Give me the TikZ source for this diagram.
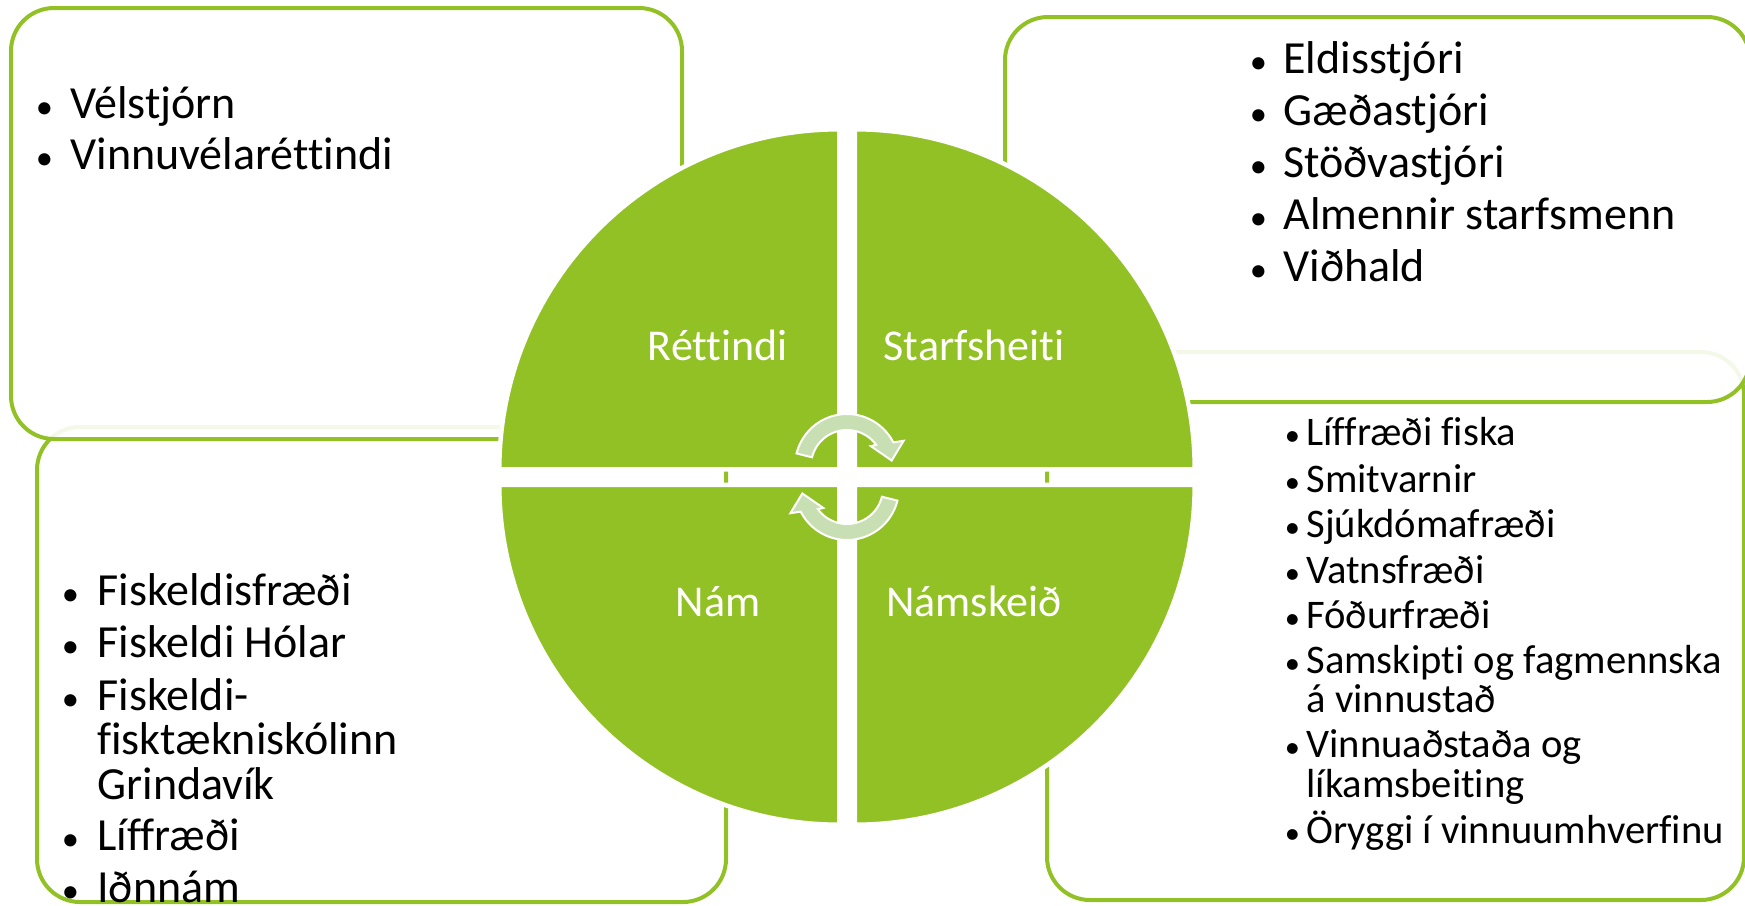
\documentclass[tikz,border=0pt]{standalone}
\usepackage{fontspec}
\setmainfont{Carlito}[Ligatures={NoCommon}]
\definecolor{mygreen}{RGB}{146,193,37}
\definecolor{arrowgreen}{RGB}{199,223,178}
\newcommand\mybul[1]{\llap{\makebox[0pt]{\scalebox{0.75}{•}}\hspace{#1}}}
\tikzset{
  boxline/.style={draw=mygreen, line width=2pt, rounded corners=21.5pt},
  topbox/.style={boxline, fill=white, fill opacity=0.9},
  botbox/.style={boxline, fill=white},
  quad/.style={fill=mygreen, draw=white, line width=2.25pt},
  qlabel/.style={text=white, font=\fontsize{22}{26}\selectfont, anchor=base, inner sep=0pt},
  lstbig/.style={font=\fontsize{23}{26}\selectfont, anchor=base west, inner sep=0pt},
  lstsmall/.style={font=\fontsize{20.3}{23}\selectfont, anchor=base west, inner sep=0pt},
  cyarrow/.style={fill=arrowgreen, draw=white, line width=1pt, line join=miter},
}
\begin{document}
\begin{tikzpicture}[x=0.5pt, y=-0.5pt]
\useasboundingbox (0,0) rectangle (1745,905);
% bottom boxes
\draw[botbox] (37,427) rectangle (726,902);
\draw[botbox] (1047,352) rectangle (1744,900);
% top boxes
\draw[topbox] (11,8) rectangle (682,439);
\draw[topbox] (1005,17) rectangle (1750,402);
% quadrants
\path[quad] (839.25,469.25) -- plot[domain=180:270, samples=60, variable=\t] ({839.25+340*cos(\t)},{469.25+340*sin(\t)}) -- cycle;
\path[quad] (854.75,469.25) -- plot[domain=270:360, samples=60, variable=\t] ({854.75+340*cos(\t)},{469.25+340*sin(\t)}) -- cycle;
\path[quad] (854.75,484.75) -- plot[domain=0:90, samples=60, variable=\t] ({854.75+340*cos(\t)},{484.75+340*sin(\t)}) -- cycle;
\path[quad] (839.25,484.75) -- plot[domain=90:180, samples=60, variable=\t] ({839.25+340*cos(\t)},{484.75+340*sin(\t)}) -- cycle;
% quadrant labels
\node[qlabel] (ret) at (718,360) {Réttindi};
\node[qlabel] (sta) at (974,360) {Starfsheiti};
\node[qlabel] (nam) at (718,616) {Nám};
\node[qlabel] (nsk) at (974,616) {Námskeið};
% cycle arrows
\path[cyarrow] plot[domain=194:333, samples=40, variable=\t] ({847+52*cos(\t)},{466+52*sin(\t)})
  -- ({847+62*cos(336)},{466+62*sin(336)})
  -- ({847+45*cos(353)},{466+45*sin(353)})
  -- ({847+31*cos(320)},{466+31*sin(320)})
  -- plot[domain=324:194, samples=40, variable=\t] ({847+36*cos(\t)},{466+36*sin(\t)}) -- cycle;
\path[cyarrow] plot[domain=14:153, samples=40, variable=\t] ({847+52*cos(\t)},{488+52*sin(\t)})
  -- ({847+62*cos(156)},{488+62*sin(156)})
  -- ({847+45*cos(173)},{488+45*sin(173)})
  -- ({847+31*cos(140)},{488+31*sin(140)})
  -- plot[domain=144:14, samples=40, variable=\t] ({847+36*cos(\t)},{488+36*sin(\t)}) -- cycle;
% top-left list
\node[lstbig] (tl1) at (70,118) {\mybul{13pt}Vélstjórn};
\node[lstbig] (tl2) at (70,169) {\mybul{13pt}Vinnuvélaréttindi};
% top-right list
\node[lstbig] (tr1) at (1283,73) {\mybul{12.5pt}Eldisstjóri};
\node[lstbig] (tr2) at (1283,125) {\mybul{12.5pt}Gæðastjóri};
\node[lstbig] (tr3) at (1283,177) {\mybul{12.5pt}Stöðvastjóri};
\node[lstbig] (tr4) at (1283,229) {\mybul{12.5pt}Almennir starfsmenn};
\node[lstbig] (tr5) at (1283,281) {\mybul{12.5pt}Viðhald};
% bottom-left list
\node[lstbig] (bl1) at (97,605.5) {\mybul{13.5pt}Fiskeldisfræði};
\node[lstbig] (bl2) at (97,657.8) {\mybul{13.5pt}Fiskeldi Hólar};
\node[lstbig] (bl3) at (97,710) {\mybul{13.5pt}Fiskeldi-};
\node[lstbig] (bl3b) at (97,754.6) {fisktækniskólinn};
\node[lstbig] (bl3c) at (97,799) {Grindavík};
\node[lstbig] (bl4) at (97,850.3) {\mybul{13.5pt}Líffræði};
\node[lstbig] (bl5) at (97,902.6) {\mybul{13.5pt}Iðnnám};
% bottom-right list
\node[lstsmall] (br1) at (1306,445) {\mybul{7pt}Líffræði fiska};
\node[lstsmall] (br2) at (1306,492) {\mybul{7pt}Smitvarnir};
\node[lstsmall] (br3) at (1306,537) {\mybul{7pt}Sjúkdómafræði};
\node[lstsmall] (br4) at (1306,583) {\mybul{7pt}Vatnsfræði};
\node[lstsmall] (br5) at (1306,628) {\mybul{7pt}Fóðurfræði};
\node[lstsmall] (br6) at (1306,673) {\mybul{7pt}Samskipti og fagmennska};
\node[lstsmall] (br6b) at (1306,712) {á vinnustað};
\node[lstsmall] (br7) at (1306,757) {\mybul{7pt}Vinnuaðstaða og};
\node[lstsmall] (br7b) at (1306,797) {líkamsbeiting};
\node[lstsmall] (br8) at (1306,843) {\mybul{7pt}Öryggi í vinnuumhverfinu};
\end{tikzpicture}
\end{document}
